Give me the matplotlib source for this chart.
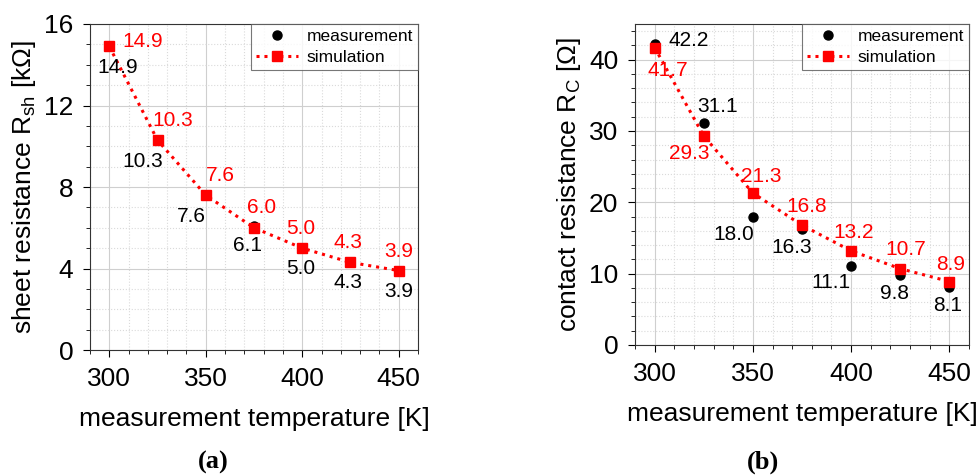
import matplotlib
matplotlib.use("Agg")
import matplotlib.pyplot as plt
from matplotlib.ticker import MultipleLocator

plt.rcParams['font.family'] = ['Liberation Sans', 'DejaVu Sans']
plt.rcParams['mathtext.fontset'] = 'custom'
plt.rcParams['mathtext.rm'] = 'Liberation Sans'

# data
temp = [300, 325, 350, 375, 400, 425, 450]
rsh_meas = [14.9, 10.3, 7.6, 6.1, 5.0, 4.3, 3.9]
rsh_sim = [14.9, 10.3, 7.6, 6.0, 5.0, 4.3, 3.9]
rc_meas = [42.2, 31.1, 18.0, 16.3, 11.1, 9.8, 8.1]
rc_sim = [41.7, 29.3, 21.3, 16.8, 13.2, 10.7, 8.9]

# label offsets in pixels (layout only)
off_a_meas = [(8, -21), (-15, -21), (-14, -21), (-7, -20), (-2, -20), (-2, -20), (0, -21)]
off_a_sim = [(33, 5), (15, 20), (15, 20), (8, 20), (-2, 20), (-2, 20), (0, 19)]
off_b_meas = [(34, 3), (14, 17), (-19, -18), (-10, -19), (-20, -17), (-6, -18), (-2, -18)]
off_b_sim = [(13, -23), (-15, -18), (8, 17), (5, 19), (3, 18), (6, 19), (1, 17)]

RED = '#ff0000'
fig = plt.figure(figsize=(9.79, 4.75), dpi=100)
ax_a = fig.add_axes([0.0919, 0.263, 0.3351, 0.6865])
ax_b = fig.add_axes([0.6486, 0.2737, 0.3412, 0.6758])


def draw(ax, meas, sim, off_m, off_s, ylim, ymaj, ymin, ylabel):
    ax.plot(temp, meas, 'o', color='black', ms=6.5, zorder=3, label='measurement')
    ax.plot(temp, sim, color=RED, lw=2.2, ls=(0, (1, 1.6)), marker='s', ms=6.5,
            zorder=4, label='simulation')
    for t, v, o in zip(temp, meas, off_m):
        ax.annotate(f'{v:.1f}', (t, v), xytext=o, textcoords='offset pixels',
                    ha='center', va='center', fontsize=15, color='black', zorder=5)
    for t, v, o in zip(temp, sim, off_s):
        ax.annotate(f'{v:.1f}', (t, v), xytext=o, textcoords='offset pixels',
                    ha='center', va='center', fontsize=15, color=RED, zorder=5)
    ax.set_xlim(290, 460)
    ax.set_ylim(*ylim)
    ax.xaxis.set_major_locator(MultipleLocator(50))
    ax.xaxis.set_minor_locator(MultipleLocator(10))
    ax.yaxis.set_major_locator(MultipleLocator(ymaj))
    ax.yaxis.set_minor_locator(MultipleLocator(ymin))
    ax.grid(which='major', color='#cfcfcf', lw=0.8)
    ax.grid(which='minor', color='#dadada', lw=0.8, ls=':')
    ax.set_axisbelow(True)
    ax.tick_params(which='major', direction='out', length=5, labelsize=19, pad=7)
    ax.tick_params(which='minor', direction='out', length=3)
    for s in ax.spines.values():
        s.set_color('#333333')
    ax.set_xlabel('measurement temperature [K]', fontsize=19, labelpad=12)
    ax.set_ylabel(ylabel, fontsize=19, labelpad=4)
    leg = ax.legend(loc='upper right', fontsize=12.5, frameon=True, fancybox=False,
                    borderaxespad=0, numpoints=1, handlelength=2.4,
                    handletextpad=0.5, borderpad=0.3, labelspacing=0.3)
    leg.get_frame().set_edgecolor('#555555')
    leg.get_frame().set_linewidth(0.8)


draw(ax_a, rsh_meas, rsh_sim, off_a_meas, off_a_sim, (0, 16), 4, 1,
     r'sheet resistance R$_{\mathregular{sh}}$ [k$\Omega$]')
draw(ax_b, rc_meas, rc_sim, off_b_meas, off_b_sim, (0, 45), 10, 2,
     r'contact resistance R$_{\mathregular{C}}$ [$\Omega$]')

fig.text(213 / 979, 1 - 462 / 475, '(a)', ha='center', va='center', fontsize=19,
         fontweight='bold', family='Liberation Serif')
fig.text(763 / 979, 1 - 462 / 475, '(b)', ha='center', va='center', fontsize=19,
         fontweight='bold', family='Liberation Serif')

fig.savefig('out.png', dpi=100)
